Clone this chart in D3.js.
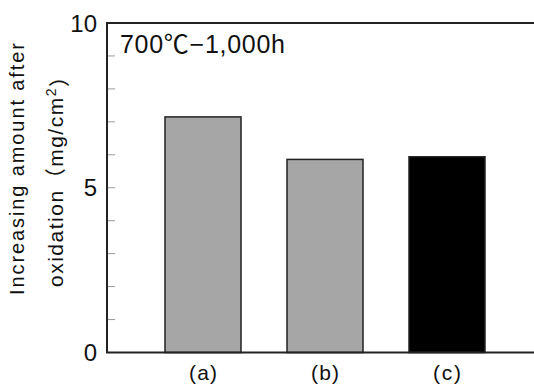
<!DOCTYPE html>
<html><head><meta charset="utf-8">
<script src="https://cdn.jsdelivr.net/npm/d3@7"></script>
<style>body{margin:0;background:#fff}svg{display:block}text{font-family:"Liberation Sans",Arial,"Noto Sans CJK JP",sans-serif;fill:#111}</style>
</head><body>
<script>
const categories = ["(a)", "(b)", "(c)"];
const values = [7.15, 5.86, 5.94];
const fills = ["#a6a6a6", "#a6a6a6", "#000000"];
const yTickLabels = [0, 5, 10];
const minorTicks = [1,2,3,4,5,6,7,8,9];
const title = "700℃\u22121,000h";

const W = 534, H = 385;
const svg = d3.select("body").append("svg").attr("width", W).attr("height", H);
const x0 = 107, xR = 534, yTop = 23, yBot = 352.5;
const y = d3.scaleLinear().domain([0, 10]).range([yBot, yTop]);
const x = d3.scaleBand().domain(categories).range([142, 508]).paddingInner(0.377).paddingOuter(0.1885);

// minor ticks (inside)
svg.append("g").selectAll("line").data(minorTicks).join("line")
  .attr("x1", x0).attr("x2", x0 + 8).attr("y1", d => y(d)).attr("y2", d => y(d))
  .attr("stroke", "#999").attr("stroke-width", 1);

// bars
svg.append("g").selectAll("rect").data(values).join("rect")
  .attr("x", (d, i) => x(categories[i])).attr("width", x.bandwidth())
  .attr("y", d => y(d)).attr("height", d => y(0) - y(d))
  .attr("fill", (d, i) => fills[i]).attr("stroke", "#222").attr("stroke-width", 1.5);

// frame: left, top, bottom
svg.append("path").attr("d", `M${xR},${yTop}H${x0}V${yBot}H${xR}`)
  .attr("fill", "none").attr("stroke", "#222").attr("stroke-width", 2);

// y tick labels
svg.append("g").selectAll("text").data(yTickLabels).join("text")
  .attr("x", x0 - 10).attr("y", d => y(d)).attr("dy", "0.36em")
  .attr("text-anchor", "end").attr("font-size", 24).text(d => d);

// x labels
svg.append("g").selectAll("text").data(categories).join("text")
  .attr("x", d => x(d) + x.bandwidth() / 2).attr("y", 380)
  .attr("text-anchor", "middle").attr("font-size", 21)
  .attr("textLength", 28).attr("lengthAdjust", "spacing")
  .text(d => d);

// title
svg.append("text").attr("x", 120).attr("y", 53).attr("font-size", 25)
  .attr("textLength", 165).attr("lengthAdjust", "spacing").text(title);

// y axis label
const yl = svg.append("g");
yl.append("text").attr("transform", "translate(24,169) rotate(-90)")
  .attr("text-anchor", "middle").attr("font-size", 20)
  .attr("textLength", 252).attr("lengthAdjust", "spacing").text("Increasing amount after");
const t2 = yl.append("text").attr("transform", "translate(63,287) rotate(-90)")
  .attr("text-anchor", "start").attr("font-size", 21)
  .attr("textLength", 221).attr("lengthAdjust", "spacing");
t2.append("tspan").text("oxidation\uFF08mg/cm");
t2.append("tspan").attr("dy", "-0.5em").attr("font-size", 14).text("2");
t2.append("tspan").attr("dy", "0.5em").text("\uFF09");
</script>
</body></html>
